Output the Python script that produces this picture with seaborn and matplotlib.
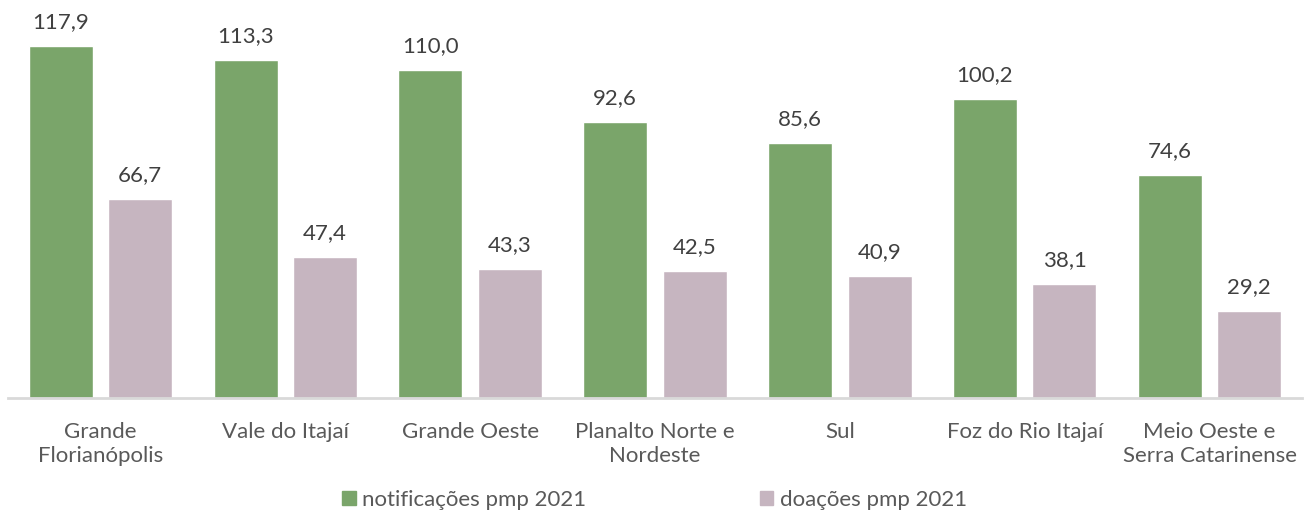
import pandas as pd
import matplotlib.pyplot as plt
import seaborn as sns

# ===============================
# Data
# ===============================
regioes = ["Grande\nFlorianópolis", "Vale do Itajaí", "Grande Oeste",
           "Planalto Norte e\nNordeste", "Sul", "Foz do Rio Itajaí",
           "Meio Oeste e\nSerra Catarinense"]
notificacoes = [117.9, 113.3, 110.0, 92.6, 85.6, 100.2, 74.6]
doacoes = [66.7, 47.4, 43.3, 42.5, 40.9, 38.1, 29.2]
series = ["notificações pmp 2021", "doações pmp 2021"]
cores = ["#7AA56A", "#C6B5C0"]

df = pd.DataFrame({
    "regiao": regioes * 2,
    "valor": notificacoes + doacoes,
    "serie": [series[0]] * len(regioes) + [series[1]] * len(regioes),
})

# ===============================
# Plot
# ===============================
sns.set_style("white")
plt.rcParams['font.family'] = ['Lato', 'DejaVu Sans']

fig = plt.figure(figsize=(13.09, 5.15), dpi=100)
ax = fig.add_axes([8 / 1309, 1 - 398 / 515, 1294 / 1309, 388 / 515])

sns.barplot(data=df, x="regiao", y="valor", hue="serie", palette=cores,
            width=0.86, gap=0.195, saturation=1, ax=ax, legend=False)

for cont in ax.containers:
    labels = [f"{v:.1f}".replace(".", ",") for v in cont.datavalues]
    ax.bar_label(cont, labels=labels, padding=10, fontsize=16, color="#404040")

ax.set_ylim(0, 130)
ax.set_xlim(-0.5, len(regioes) - 0.5)
ax.set_xlabel("")
ax.set_ylabel("")
ax.set_yticks([])
ax.tick_params(axis="x", length=0, pad=17, labelsize=16, labelcolor="#595959")
for lbl in ax.get_xticklabels():
    lbl.set_linespacing(1.3)
for s in ["top", "left", "right"]:
    ax.spines[s].set_visible(False)
ax.spines["bottom"].set_color("#D9D9D9")
ax.spines["bottom"].set_linewidth(2)

handles = [plt.Rectangle((0, 0), 1, 1, color=c) for c in cores]
fig.legend(handles, series, loc="center", bbox_to_anchor=(0.5, 1 - 500 / 515),
           ncol=2, frameon=False, fontsize=16, labelcolor="#595959",
           handlelength=0.6, handleheight=0.6, handletextpad=0.3,
           columnspacing=7.8)

fig.savefig("out.png", dpi=100)
